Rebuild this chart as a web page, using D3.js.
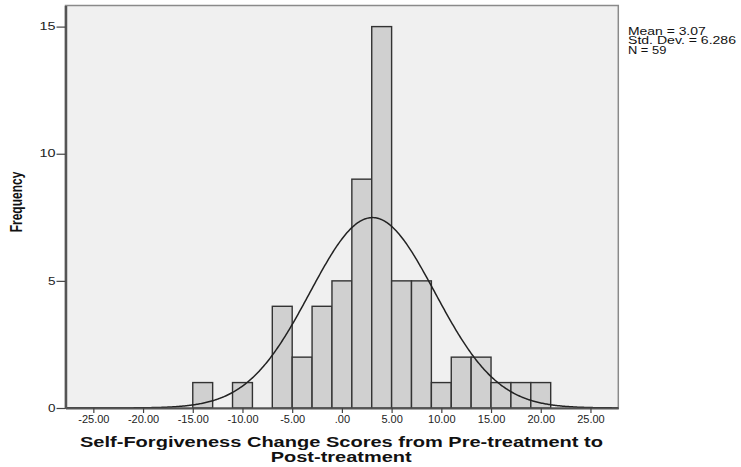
<!DOCTYPE html>
<html>
<head>
<meta charset="utf-8">
<script src="https://cdn.jsdelivr.net/npm/d3@7"></script>
<style>
  body { margin: 0; background: #fff; }
  text { font-family: "Liberation Sans", Arial, sans-serif; }
</style>
</head>
<body>
<script>
// histogram bins (width 2) and frequencies
const binStarts = [-15, -13, -11, -9, -7, -5, -3, -1, 1, 3, 5, 7, 9, 11, 13, 15, 17, 19];
const counts    = [1, 0, 1, 0, 4, 2, 4, 5, 9, 15, 5, 5, 1, 2, 2, 1, 1, 1];
const binWidth = 2;

// summary stats printed beside the chart
const mean = 3.07;
const stdDev = 6.286;
const nCases = 59;

// axis ticks
const xTicks = [-25, -20, -15, -10, -5, 0, 5, 10, 15, 20, 25];
const xTickLabels = ['-25.00', '-20.00', '-15.00', '-10.00', '-5.00', '.00', '5.00', '10.00', '15.00', '20.00', '25.00'];
const yTicks = [0, 5, 10, 15];

const width = 741;
const height = 467;
const plot = { left: 65.5, right: 618.3, top: 5.5, bottom: 408 };

const x = d3.scaleLinear().domain([-27.8, 27.8]).range([plot.left, plot.right]);
const y = d3.scaleLinear().domain([0, 15.83]).range([plot.bottom, plot.top]);

const svg = d3.select('body').append('svg')
  .attr('width', width)
  .attr('height', height);

// plot background + frame
svg.append('rect')
  .attr('x', plot.left).attr('y', plot.top)
  .attr('width', plot.right - plot.left).attr('height', plot.bottom - plot.top)
  .attr('fill', '#f0f0f0')
  .attr('stroke', '#8a8a8a')
  .attr('stroke-width', 1.5);

// bars
const bins = binStarts.map((b, i) => ({ x0: b, x1: b + binWidth, n: counts[i] }))
  .filter((d) => d.n > 0);
svg.append('g').selectAll('rect')
  .data(bins)
  .join('rect')
  .attr('x', (d) => x(d.x0))
  .attr('y', (d) => y(d.n))
  .attr('width', (d) => x(d.x1) - x(d.x0))
  .attr('height', (d) => y(0) - y(d.n))
  .attr('fill', '#d0d0d0')
  .attr('stroke', '#333')
  .attr('stroke-width', 1.4);

// fitted normal curve from the reported mean / sd / N
const scaleN = nCases * binWidth / (stdDev * Math.sqrt(2 * Math.PI));
const curvePts = d3.range(x.domain()[0], x.domain()[1] + 0.01, 0.1)
  .map((v) => [v, scaleN * Math.exp(-0.5 * ((v - mean) / stdDev) ** 2)]);
svg.append('path')
  .datum(curvePts)
  .attr('fill', 'none')
  .attr('stroke', '#222')
  .attr('stroke-width', 1.5)
  .attr('d', d3.line().x((d) => x(d[0])).y((d) => y(d[1])));

// axes
const gx = svg.append('g').attr('transform', `translate(0,${plot.bottom})`);
gx.call(d3.axisBottom(x).tickValues(xTicks).tickSize(5).tickSizeOuter(0)
  .tickFormat((d, i) => xTickLabels[i]));
gx.select('.domain').attr('stroke', '#555').attr('stroke-width', 2);
gx.selectAll('.tick line').attr('stroke', '#444').attr('stroke-width', 1.2);
gx.selectAll('.tick text')
  .attr('font-size', 11)
  .attr('font-family', '"Liberation Sans", Arial, sans-serif')
  .attr('fill', '#222')
  .attr('dy', '0.71em')
  .attr('y', 7.5);

const gy = svg.append('g').attr('transform', `translate(${plot.left},0)`);
gy.call(d3.axisLeft(y).tickValues(yTicks).tickSize(9).tickSizeOuter(0).tickFormat(d3.format('d')));
gy.select('.domain').attr('stroke', '#555').attr('stroke-width', 2.5);
gy.selectAll('.tick line').attr('stroke', '#444').attr('stroke-width', 1.2);
gy.selectAll('.tick text')
  .attr('font-size', 10)
  .attr('font-family', '"Liberation Sans", Arial, sans-serif')
  .attr('fill', '#222')
  .attr('x', -10)
  .attr('textLength', (d) => (String(d).length === 1 ? 7.5 : 16))
  .attr('lengthAdjust', 'spacingAndGlyphs');

// axis titles
svg.append('text')
  .attr('x', 341.5).attr('y', 447)
  .attr('text-anchor', 'middle')
  .attr('font-size', 14).attr('font-weight', 'bold').attr('fill', '#111')
  .attr('textLength', 523).attr('lengthAdjust', 'spacingAndGlyphs')
  .text('Self-Forgiveness Change Scores from Pre-treatment to');
svg.append('text')
  .attr('x', 341.2).attr('y', 462)
  .attr('text-anchor', 'middle')
  .attr('font-size', 14).attr('font-weight', 'bold').attr('fill', '#111')
  .attr('textLength', 141).attr('lengthAdjust', 'spacingAndGlyphs')
  .text('Post-treatment');

svg.append('text')
  .attr('transform', 'translate(22,202) rotate(-90) scale(1,1.3)')
  .attr('text-anchor', 'middle')
  .attr('font-size', 12).attr('font-weight', 'bold').attr('fill', '#111')
  .text('Frequency');

// stats box text
const statLines = [
  { t: `Mean = ${mean.toFixed(2)}`, w: 77.7 },
  { t: `Std. Dev. = ${stdDev.toFixed(3)}`, w: 108 },
  { t: `N = ${nCases}`, w: 38.3 },
];
svg.append('g').selectAll('text')
  .data(statLines)
  .join('text')
  .attr('x', 628)
  .attr('y', (d, i) => 34.5 + i * 9.8)
  .attr('font-size', 10).attr('fill', '#111')
  .attr('textLength', (d) => d.w).attr('lengthAdjust', 'spacingAndGlyphs')
  .text((d) => d.t);
</script>
</body>
</html>
